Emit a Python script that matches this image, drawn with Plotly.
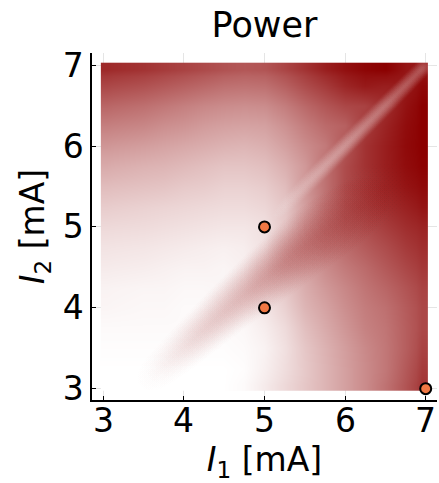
import numpy as np
import plotly.graph_objects as go

# Grid of drive currents (mA)
i1_values = [3.0, 3.25, 3.5, 3.75, 4.0, 4.25, 4.5, 4.75, 5.0, 5.25, 5.5, 5.75, 6.0, 6.25, 6.5, 6.75, 7.0]
i2_values = [3.0, 3.25, 3.5, 3.75, 4.0, 4.25, 4.5, 4.75, 5.0, 5.25, 5.5, 5.75, 6.0, 6.25, 6.5, 6.75, 7.0]

# Normalised power (broad field), one list per I1 column, ordered by I2 (bottom to top)
power_by_i1 = [
    [0.00, 0.00, 0.01, 0.02, 0.04, 0.05, 0.08, 0.11, 0.15, 0.20, 0.26, 0.33, 0.41, 0.50, 0.60, 0.72, 0.84],
    [0.00, 0.00, 0.01, 0.02, 0.035, 0.045, 0.075, 0.105, 0.145, 0.19, 0.25, 0.315, 0.395, 0.485, 0.58, 0.70, 0.82],
    [0.00, 0.00, 0.01, 0.02, 0.03, 0.04, 0.07, 0.10, 0.14, 0.18, 0.24, 0.30, 0.38, 0.47, 0.56, 0.68, 0.80],
    [0.00, 0.00, 0.01, 0.02, 0.03, 0.04, 0.06, 0.09, 0.13, 0.17, 0.23, 0.29, 0.36, 0.44, 0.53, 0.65, 0.77],
    [0.00, 0.00, 0.01, 0.02, 0.02, 0.03, 0.05, 0.08, 0.12, 0.16, 0.21, 0.27, 0.34, 0.42, 0.50, 0.62, 0.74],
    [0.00, 0.00, 0.01, 0.02, 0.02, 0.03, 0.05, 0.07, 0.11, 0.15, 0.20, 0.25, 0.32, 0.39, 0.47, 0.59, 0.71],
    [0.00, 0.00, 0.01, 0.02, 0.03, 0.04, 0.04, 0.06, 0.10, 0.14, 0.18, 0.23, 0.30, 0.37, 0.45, 0.56, 0.68],
    [0.02, 0.01, 0.02, 0.03, 0.05, 0.06, 0.06, 0.07, 0.10, 0.14, 0.18, 0.23, 0.29, 0.36, 0.44, 0.55, 0.66],
    [0.08, 0.06, 0.05, 0.07, 0.10, 0.12, 0.13, 0.12, 0.12, 0.16, 0.20, 0.25, 0.31, 0.37, 0.45, 0.56, 0.67],
    [0.15, 0.13, 0.12, 0.14, 0.18, 0.22, 0.26, 0.26, 0.22, 0.22, 0.26, 0.31, 0.37, 0.43, 0.51, 0.62, 0.73],
    [0.22, 0.21, 0.22, 0.25, 0.29, 0.32, 0.36, 0.38, 0.38, 0.38, 0.40, 0.40, 0.45, 0.51, 0.59, 0.70, 0.80],
    [0.29, 0.29, 0.30, 0.33, 0.36, 0.40, 0.45, 0.50, 0.52, 0.54, 0.55, 0.55, 0.52, 0.58, 0.66, 0.77, 0.88],
    [0.37, 0.37, 0.38, 0.41, 0.44, 0.47, 0.52, 0.58, 0.63, 0.67, 0.70, 0.70, 0.66, 0.62, 0.72, 0.85, 0.94],
    [0.45, 0.45, 0.46, 0.49, 0.51, 0.54, 0.58, 0.64, 0.70, 0.75, 0.78, 0.80, 0.80, 0.76, 0.74, 0.90, 0.98],
    [0.55, 0.53, 0.53, 0.54, 0.56, 0.60, 0.65, 0.70, 0.76, 0.82, 0.86, 0.88, 0.88, 0.86, 0.82, 0.88, 1.00],
    [0.67, 0.65, 0.63, 0.63, 0.64, 0.67, 0.72, 0.77, 0.82, 0.87, 0.92, 0.95, 0.96, 0.95, 0.93, 0.90, 0.92],
    [0.80, 0.77, 0.74, 0.72, 0.72, 0.74, 0.78, 0.82, 0.86, 0.92, 0.96, 0.99, 1.00, 1.00, 1.00, 0.97, 0.90],
]

# Narrow low-power ridge along I1 = I2: path vertices and drop in power at each vertex
ridge_i1 = [5.05, 5.35, 5.70, 6.00, 6.60, 7.00]
ridge_i2 = [5.05, 5.35, 5.70, 6.00, 6.60, 7.00]
ridge_depth = [0.00, 0.22, 0.42, 0.47, 0.42, 0.36]

# Narrow high-power band below the diagonal: path vertices and rise in power at each vertex
band_i1 = [3.50, 4.00, 4.50, 5.00, 5.50, 6.00, 6.50, 6.90]
band_i2 = [3.06, 3.50, 3.95, 4.37, 4.78, 5.13, 5.48, 5.77]
band_rise = [0.00, 0.16, 0.30, 0.42, 0.42, 0.28, 0.13, 0.00]

# Operating points
point_i1 = [5, 5, 7]
point_i2 = [5, 4, 3]

tick_values = [3, 4, 5, 6, 7]

X_RANGE = [2.86, 7.14]
Y_RANGE = [2.86, 7.15]
PLOT_W, PLOT_H = 345, 347
PX_X = PLOT_W / (X_RANGE[1] - X_RANGE[0])
PX_Y = PLOT_H / (Y_RANGE[1] - Y_RANGE[0])


def cell_edges(centers, pad=0.03):
    c = np.asarray(centers, dtype=float)
    mids = (c[:-1] + c[1:]) / 2
    return np.concatenate([[c[0] - pad], mids, [c[-1] + pad]])


def feathered_stroke(xs, ys, strength, widths, rgb, step_px):
    """Soft stroke: a chain of radially faded dots following the path."""
    px, py, pa, ps = [], [], [], []
    for k in range(len(xs) - 1):
        dx = (xs[k + 1] - xs[k]) * PX_X
        dy = (ys[k + 1] - ys[k]) * PX_Y
        n = max(2, int(np.hypot(dx, dy) / step_px))
        t = np.linspace(0, 1, n, endpoint=(k == len(xs) - 2))
        px.extend(xs[k] + t * (xs[k + 1] - xs[k]))
        py.extend(ys[k] + t * (ys[k + 1] - ys[k]))
        pa.extend(strength[k] + t * (strength[k + 1] - strength[k]))
        ps.extend(widths[k] + t * (widths[k + 1] - widths[k]))
    pa = np.clip(np.asarray(pa), 0, 0.95)
    ps = np.asarray(ps)
    # centre opacity of each dot so the overlapping dots reach the wanted strength
    a0 = np.clip(np.abs(np.log(1 - pa)) * step_px / (ps / 2), 0, 1)
    centre = [f"rgba({rgb[0]},{rgb[1]},{rgb[2]},{abs(a):.4f})" for a in a0]
    return go.Scatter(
        x=px, y=py, mode="markers",
        marker=dict(size=ps, color=f"rgba({rgb[0]},{rgb[1]},{rgb[2]},0)",
                    gradient=dict(type="radial", color=centre),
                    line=dict(width=0)),
        hoverinfo="skip", showlegend=False,
    )


z = np.array(power_by_i1).T  # rows follow I2, columns follow I1

fig = go.Figure()
fig.add_trace(go.Heatmap(
    x=cell_edges(i1_values),
    y=cell_edges(i2_values),
    z=z,
    zmin=0, zmax=1,
    colorscale=[[0, "#ffffff"], [1, "#8b0000"]],
    zsmooth="best",
    showscale=False,
    hoverinfo="skip",
))

fig.add_trace(feathered_stroke(band_i1, band_i2, band_rise,
                               [38, 46, 54, 62, 68, 72, 74, 74], (139, 0, 0), step_px=6))
fig.add_trace(feathered_stroke(ridge_i1, ridge_i2, ridge_depth,
                               [16, 18, 20, 20, 20, 18], (255, 255, 255), step_px=3))

fig.add_trace(go.Scatter(
    x=point_i1, y=point_i2,
    mode="markers",
    marker=dict(size=11, color="#f07844", line=dict(color="black", width=2)),
    cliponaxis=False,
    showlegend=False,
))

font = "DejaVu Sans, sans-serif"
axis_common = dict(
    tickvals=tick_values,
    ticks="inside",
    ticklen=4,
    tickwidth=1,
    tickcolor="black",
    showline=True,
    linecolor="black",
    linewidth=1.5,
    showgrid=True,
    gridcolor="rgba(0,0,0,0.1)",
    gridwidth=0.5,
    zeroline=False,
    mirror=False,
    automargin=False,
    tickfont=dict(family=font, size=33, color="black"),
)

# I1 tick labels set just under the axis line
tick_label_notes = [
    dict(text=str(v), x=v, xref="x", y=0, yref="paper", yanchor="top", yshift=1,
         showarrow=False, font=dict(family=font, size=33, color="black"))
    for v in tick_values
]

fig.update_layout(
    width=439, height=483,
    margin=dict(l=92, r=2, t=53, b=83),
    paper_bgcolor="white",
    plot_bgcolor="white",
    showlegend=False,
    title=dict(text="Power", x=0.5, xref="paper", xanchor="center", y=0.948, yanchor="middle",
               yref="container", font=dict(family=font, size=35, color="black")),
    xaxis=dict(range=X_RANGE, showticklabels=False,
               title=dict(text="<i>I</i><sub>1</sub> [mA]",
                          font=dict(family=font, size=33, color="black"), standoff=47),
               **axis_common),
    yaxis=dict(range=Y_RANGE,
               title=dict(text="<i>I</i><sub>2</sub> [mA]",
                          font=dict(family=font, size=33, color="black"), standoff=8),
               **axis_common),
    annotations=tick_label_notes,
)

fig.write_html("out.html")
